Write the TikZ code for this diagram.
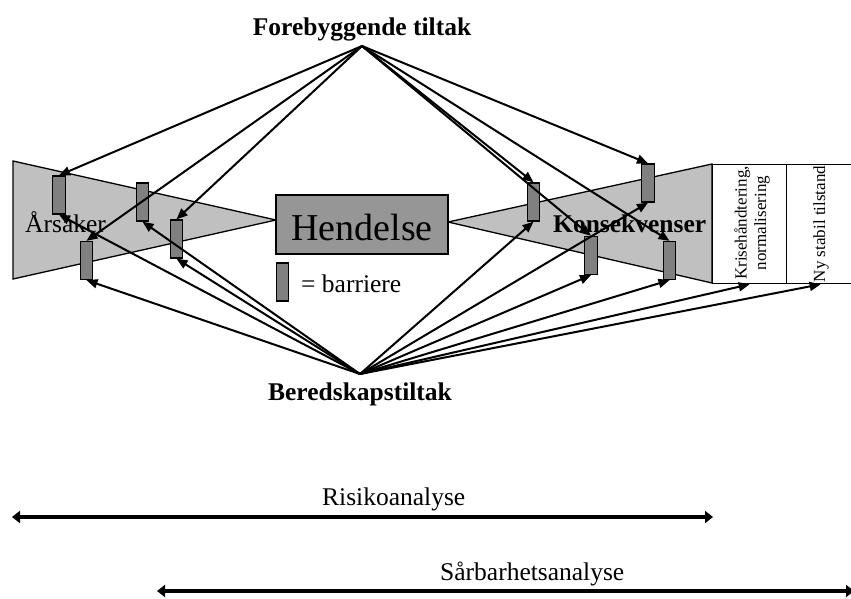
\documentclass[tikz,border=0pt]{standalone}
\usepackage{fontspec}
\setmainfont{Liberation Serif}
\usetikzlibrary{arrows.meta}
\definecolor{wedge}{HTML}{C0C0C0}
\definecolor{barfill}{HTML}{808080}
\definecolor{eventfill}{HTML}{969696}
\tikzset{
  lbl/.style={font=\fontsize{25.5}{30}\selectfont, inner sep=0pt},
  blbl/.style={font=\bfseries\fontsize{25.5}{30}\selectfont, inner sep=0pt},
  vlbl/.style={font=\fontsize{17}{19.5}\selectfont, rotate=90, align=center, inner sep=0pt},
  barrier/.style={draw, line width=1.3pt, fill=barfill, minimum width=12.5pt, minimum height=38pt, inner sep=0pt},
  phase/.style={draw, line width=1.3pt, fill=white, minimum height=119pt, inner sep=0pt, anchor=north west},
  conn/.style={line width=2pt, -{Triangle[length=11pt,width=9pt]}},
  span/.style={line width=4pt, {Triangle[length=8pt,width=12pt]}-{Triangle[length=8pt,width=12pt]}},
}
\begin{document}
\begin{tikzpicture}[x=1pt,y=-1pt]
\useasboundingbox (0,0) rectangle (851,598);

% cause and consequence wedges
\draw[fill=wedge, line width=1.3pt] (13,161) -- (276,220) -- (13,279) -- cycle;
\draw[fill=wedge, line width=1.3pt] (448,222) -- (712,164) -- (712,283) -- cycle;

% recovery phases
\node[phase, minimum width=74pt] (kh) at (712,164) {};
\node[phase, minimum width=68pt] (ns) at (786,164) {};
\node[vlbl] (khtxt) at (752,223) {Krisehåndtering,\\normalisering};
\node[vlbl] (nstxt) at (821,224) {Ny stabil tilstand};

% central event
\node[draw, fill=eventfill, line width=1.3pt, minimum width=172pt, minimum height=59pt,
      text height=31pt, text depth=0pt, inner sep=0pt,
      font=\fontsize{38}{44}\selectfont] (hd) at (362,224.5) {Hendelse};

% legend
\node[barrier] (leg) at (282.5,282) {};
\node[lbl, anchor=base west] (legtxt) at (301,292) {= barriere};

% barriers
\node[barrier] (b1) at (59,195) {};
\node[barrier] (b2) at (142.5,202) {};
\node[barrier] (b3) at (176.5,239) {};
\node[barrier] (b4) at (86.5,260.5) {};
\node[barrier] (b5) at (533.5,202) {};
\node[barrier] (b6) at (648,183) {};
\node[barrier] (b7) at (591,255.5) {};
\node[barrier] (b8) at (669.5,260.5) {};

% labels
\node[blbl, anchor=base] (prev) at (362,35) {Forebyggende tiltak};
\node[blbl, anchor=base] (prep) at (360,400) {Beredskapstiltak};
\node[lbl, anchor=base west] (cause) at (25,232) {Årsaker};
\node[blbl, anchor=base west] (cons) at (553,232) {Konsekvenser};

% preventive measures
\coordinate (ft) at (362,46);
\foreach \b in {b1,b3,b4,b5,b7,b8,b6}
  \draw[conn] (ft) -- (\b.north);

% preparedness measures
\coordinate (bt) at (360,374);
\foreach \b in {b1,b2,b3,b4,b5,b6,b7,b8,kh,ns}
  \draw[conn] (bt) -- (\b.south);

% analysis spans
\coordinate (r1) at (12,517);
\coordinate (r2) at (713,517);
\draw[span] (r1) -- (r2);
\node[lbl, anchor=base west] (risk) at (322,505) {Risikoanalyse};

\coordinate (s1) at (157,591);
\coordinate (s2) at (854,591);
\draw[span] (s1) -- (s2);
\node[lbl, anchor=base west] (vuln) at (440,580) {Sårbarhetsanalyse};
\end{tikzpicture}
\end{document}
